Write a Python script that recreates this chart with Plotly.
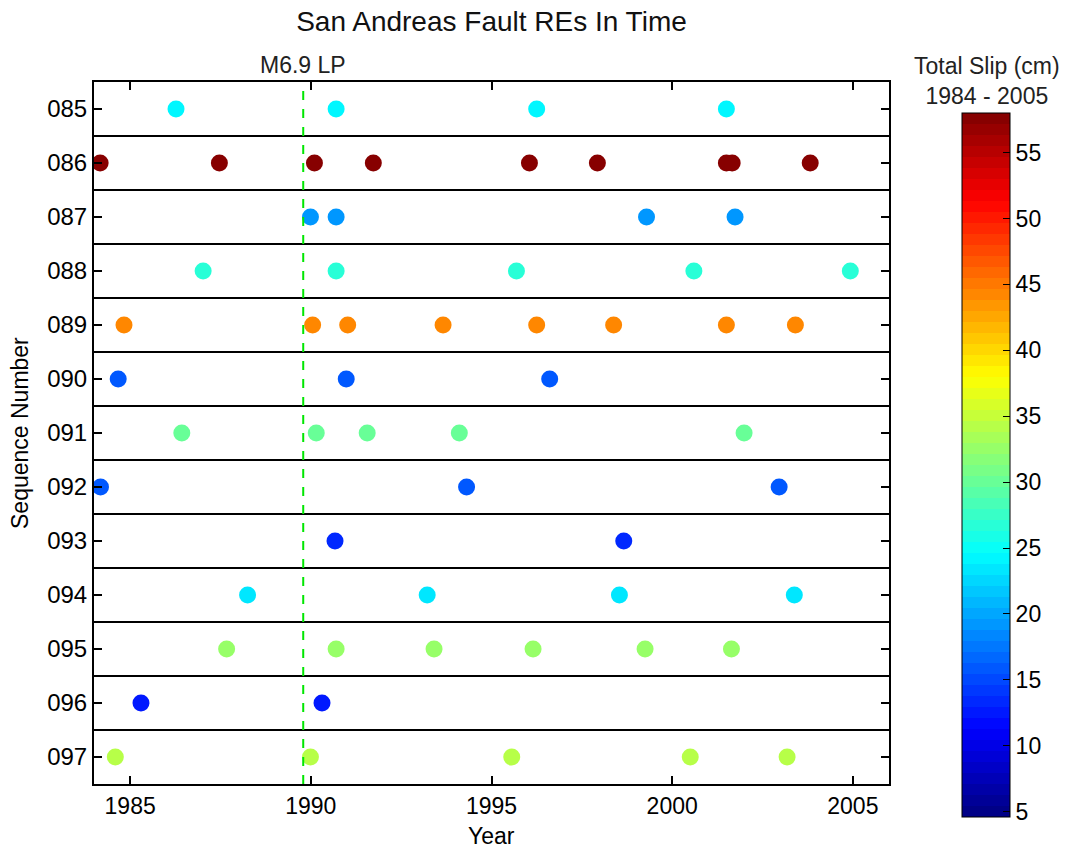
import plotly.graph_objects as go

sequences = ["085", "086", "087", "088", "089", "090", "091",
             "092", "093", "094", "095", "096", "097"]
total_slip = [24.0, 57.5, 18.9, 26.3, 44.3, 15.7, 30.4,
              16.0, 13.0, 23.3, 32.5, 12.5, 34.6]
event_years = [
    [1986.27, 1990.70, 1996.25, 2001.50],
    [1984.17, 1987.47, 1990.10, 1991.73, 1996.05, 1997.93, 2001.50, 2001.66, 2003.82],
    [1989.99, 1990.70, 1999.29, 2001.74],
    [1987.02, 1990.70, 1995.69, 2000.60, 2004.93],
    [1984.83, 1990.05, 1991.02, 1993.66, 1996.25, 1998.38, 2001.50, 2003.41],
    [1984.67, 1990.98, 1996.61],
    [1986.43, 1990.15, 1991.56, 1994.11, 2001.99],
    [1984.18, 1994.31, 2002.96],
    [1990.67, 1998.66],
    [1988.25, 1993.22, 1998.54, 2003.38],
    [1987.67, 1990.70, 1993.41, 1996.15, 1999.25, 2001.64],
    [1985.30, 1990.31],
    [1984.59, 1989.99, 1995.56, 2000.50, 2003.18],
]
lp_year = 1989.79
lp_label = "M6.9 LP"
slip_min, slip_max = 4.6, 58.0
cbar_ticks = [5, 10, 15, 20, 25, 30, 35, 40, 45, 50, 55]
x_ticks = [1985, 1990, 1995, 2000, 2005]

# MATLAB-like jet, 64 discrete levels
def jet(f):
    def ch(x):
        return max(0.0, min(1.0, x))
    r = ch(min(4 * f - 1.5, -4 * f + 4.5))
    g = ch(min(4 * f - 0.5, -4 * f + 3.5))
    b = ch(min(4 * f + 0.5, -4 * f + 2.5))
    return "rgb(%d,%d,%d)" % (round(r * 255), round(g * 255), round(b * 255))

N = 64
cscale = []
for i in range(N):
    c = jet((i + 0.5) / N)
    cscale.append([i / N, c])
    cscale.append([(i + 1) / N, c])

xs, ys, cs = [], [], []
for s, slip, yrs in zip(sequences, total_slip, event_years):
    for t in yrs:
        xs.append(t)
        ys.append(int(s))
        cs.append(slip)

font = "Liberation Sans, Arial, Helvetica, sans-serif"

L, R, T, B = 94, 182, 82, 70
W, H = 1071, 854
pw = W - L - R
ph = H - T - B

fig = go.Figure()
fig.add_trace(go.Scatter(
    x=xs, y=ys, mode="markers",
    marker=dict(size=17, color=cs, colorscale=cscale, cmin=slip_min, cmax=slip_max,
                line=dict(width=0),
                colorbar=dict(
                    x=(962 - L) / pw, xanchor="left", xpad=0,
                    y=(H - B - 465) / ph, yanchor="middle", ypad=0,
                    len=704, lenmode="pixels",
                    thickness=48, thicknessmode="pixels",
                    outlinewidth=1, outlinecolor="black",
                    tickvals=cbar_ticks, ticks="inside", ticklen=7, tickcolor="black",
                    tickfont=dict(size=23, color="black", family=font),
                )),
    showlegend=False, hoverinfo="x+y",
))

shapes = []
for i in range(len(sequences) - 1):
    yv = int(sequences[i]) + 0.5
    shapes.append(dict(type="line", xref="paper", yref="y", x0=0, x1=1, y0=yv, y1=yv,
                       line=dict(color="black", width=2)))
shapes.append(dict(type="line", xref="x", yref="paper", x0=lp_year, x1=lp_year, y0=0, y1=1,
                   line=dict(color="rgb(0,230,0)", width=2, dash="dash")))

fig.update_layout(
    width=W, height=H,
    margin=dict(l=L, r=R, t=T, b=B),
    paper_bgcolor="white", plot_bgcolor="white",
    font=dict(family=font, color="black", size=23),
    title=dict(text="San Andreas Fault REs In Time", x=491.5 / W, xanchor="center",
               y=1 - 21 / H, yanchor="middle", font=dict(size=28, color="#111")),
    shapes=shapes,
    annotations=[
        dict(text=lp_label, x=lp_year, xref="x", y=1, yref="paper", yanchor="bottom",
             yshift=2, showarrow=False, font=dict(size=23, color="#222")),
        dict(text="Total Slip (cm)<br>1984 - 2005", x=(987 - L) / pw, xref="paper",
             xanchor="center", y=(H - B - 81) / ph, yref="paper", yanchor="middle",
             showarrow=False, font=dict(size=23, color="#222")),
        dict(text="Year", x=0.5, xref="paper", xanchor="center",
             y=(H - B - 836) / ph, yref="paper", yanchor="middle",
             showarrow=False, font=dict(size=23)),
        dict(text="Sequence Number", x=(20 - L) / pw, xref="paper", xanchor="center",
             y=0.5, yref="paper", yanchor="middle", textangle=-90,
             showarrow=False, font=dict(size=23)),
    ],
    xaxis=dict(range=[1984, 2006], tickvals=x_ticks, ticks="inside", ticklen=8,
               tickwidth=1.5, tickcolor="black", showline=True, linewidth=2,
               linecolor="black", mirror="ticks", showgrid=False, zeroline=False,
               tickfont=dict(size=23)),
    yaxis=dict(range=[97.5, 84.5], tickvals=[int(s) for s in sequences], ticktext=sequences,
               ticks="inside", ticklen=8, tickwidth=1.5, tickcolor="black",
               showline=True, linewidth=2, linecolor="black", mirror="ticks",
               showgrid=False, zeroline=False,
               tickfont=dict(size=24)),
)

fig.write_html("out.html")
